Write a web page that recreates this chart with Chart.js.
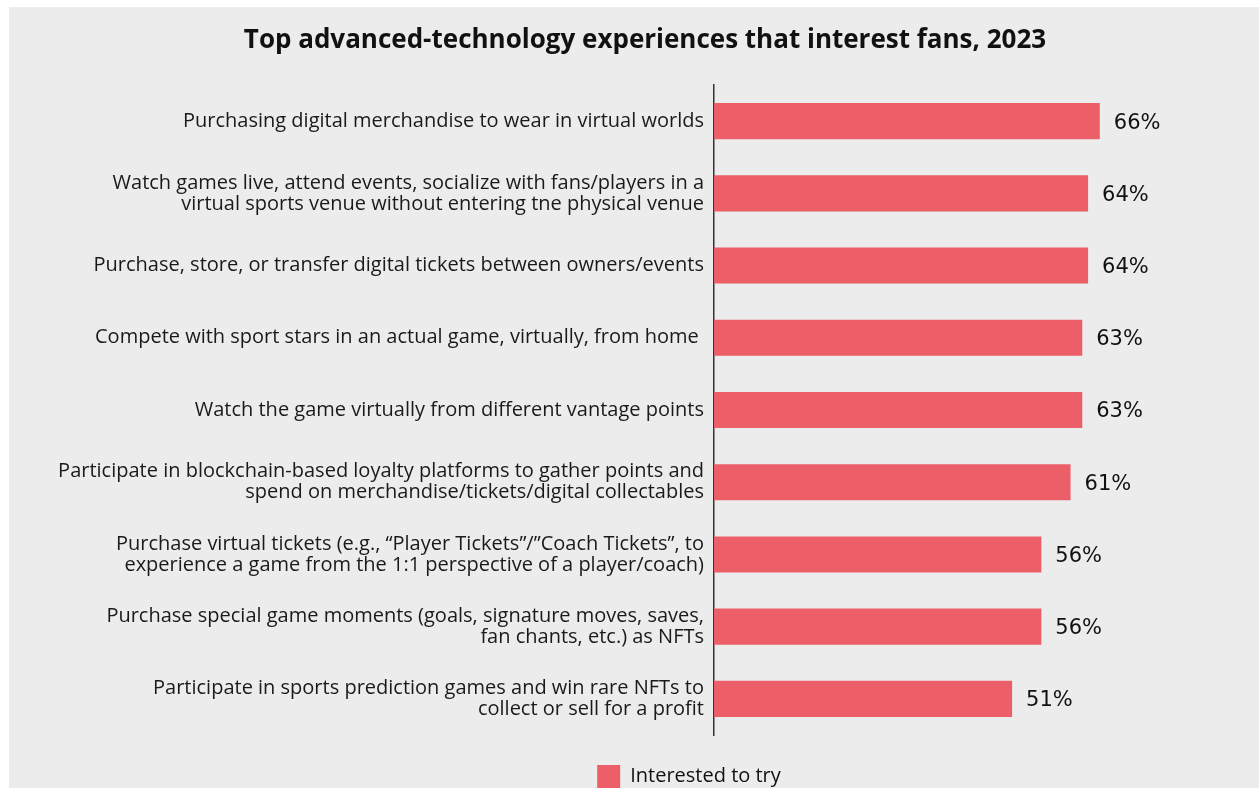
<!DOCTYPE html>
<html>
<head>
<meta charset="utf-8">
<script src="https://cdn.jsdelivr.net/npm/chart.js@4.4.0/dist/chart.umd.min.js"></script>
<style>
  html, body { margin: 0; padding: 0; background: #fff; overflow: hidden; }
  #wrap { position: absolute; left: 9px; top: 7px; width: 1272px; height: 791px; background: #ececec; }
</style>
</head>
<body>
<div id="wrap"><canvas id="fansTech" width="1272" height="791"></canvas></div>
<script>
var experiences = [
    'Purchasing digital merchandise to wear in virtual worlds',
    ['Watch games live, attend events, socialize with fans/players in a', 'virtual sports venue without entering tne physical venue'],
    'Purchase, store, or transfer digital tickets between owners/events',
    'Compete with sport stars in an actual game, virtually, from home ',
    'Watch the game virtually from different vantage points',
    ['Participate in blockchain-based loyalty platforms to gather points and', 'spend on merchandise/tickets/digital collectables'],
    ['Purchase virtual tickets (e.g., \u201cPlayer Tickets\u201d/\u201dCoach Tickets\u201d, to', 'experience a game from the 1:1 perspective of a player/coach)'],
    ['Purchase special game moments (goals, signature moves, saves,', 'fan chants, etc.) as NFTs'],
    ['Participate in sports prediction games and win rare NFTs to', 'collect or sell for a profit']
];
var interested = [66, 64, 64, 63, 63, 61, 56, 56, 51];
var seriesName = 'Interested to try';
var chartTitle = 'Top advanced-technology experiences that interest fans, 2023';

// value labels at the end of every bar
var barValues = {
    id: 'barValues',
    afterDatasetsDraw: function( chart ){
        var ctx = chart.ctx;
        var meta = chart.getDatasetMeta( 0 );
        ctx.save();
        ctx.font = '21px "DejaVu Sans"';
        ctx.fillStyle = '#111';
        ctx.textAlign = 'left';
        ctx.textBaseline = 'middle';
        meta.data.forEach(function( bar, i ){
            ctx.fillText( chart.data.datasets[0].data[i] + '%', bar.x + 14, bar.y + 2 );
        });
        ctx.restore();
    }
};

// legend sits a little right of the title centre
var legendShift = {
    id: 'legendShift',
    afterLayout: function( chart ){
        chart.legend.left += 44;
        chart.legend.right += 44;
    }
};

var ctx = document.getElementById( 'fansTech' ).getContext( '2d' );
var fansChart = new Chart( ctx ,{
    type: 'bar',
    data: {
        labels: experiences,
        datasets: [{
            label: seriesName,
            data: interested,
            backgroundColor: '#ec5f69',
            borderWidth: 0,
            barPercentage: 0.5,
            categoryPercentage: 1.0
        }]
    },
    plugins: [ barValues, legendShift ],
    options: {
        indexAxis: 'y',
        responsive: false,
        animation: false,
        layout: { padding: 0 },
        scales: {
            x: {
                min: 0,
                max: 97,
                ticks: { display: false },
                grid: { display: false, drawTicks: false },
                border: { display: false },
                afterFit: function( scale ){ scale.height = 20; }
            },
            y: {
                grid: { display: false, drawTicks: false },
                border: { display: true, color: '#333', width: 1.5 },
                ticks: {
                    padding: 10,
                    color: '#1a1a1a',
                    font: { family: '"Open Sans"', size: 20, lineHeight: 1.05 }
                },
                afterFit: function( scale ){ scale.width = 705; }
            }
        },
        plugins: {
            title: {
                display: true,
                text: chartTitle,
                color: '#111',
                font: { family: '"Open Sans"', size: 26, weight: 'bold' },
                padding: { top: 18.4, bottom: 28.4 }
            },
            legend: {
                position: 'bottom',
                labels: {
                    boxWidth: 23,
                    boxHeight: 23,
                    padding: 10,
                    color: '#111',
                    font: { family: '"Open Sans"', size: 20 }
                }
            },
            tooltip: { enabled: false }
        }
    }
});
</script>
</body>
</html>
